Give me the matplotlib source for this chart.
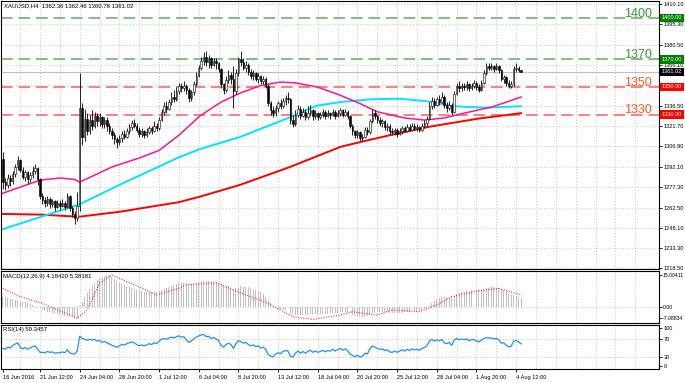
import matplotlib.pyplot as plt
from matplotlib.transforms import blended_transform_factory as blend

plt.rcParams['font.family'] = ['Liberation Sans Narrow', 'Liberation Sans', 'DejaVu Sans']

# XAUUSD H4 candles (bar 0 = 16 Jun 2016)
first_open = 1298.0
last_open = 1362.36
close = [1281, 1279, 1284, 1282, 1287, 1292, 1297, 1290, 1285, 1288,
         1283, 1286, 1289, 1291, 1283, 1271, 1268, 1266, 1269, 1265,
         1267, 1263, 1266, 1264, 1266, 1263, 1271, 1262, 1258, 1255,
         1264, 1335, 1314, 1327, 1318, 1326, 1322, 1329, 1325, 1328,
         1323, 1326, 1322, 1318, 1315, 1312, 1310, 1313, 1316, 1314,
         1318, 1321, 1324, 1322, 1319, 1316, 1318, 1315, 1317, 1320,
         1318, 1322, 1320, 1326, 1332, 1336, 1334, 1339, 1343, 1341,
         1347, 1351, 1349, 1351, 1348, 1342, 1346, 1352, 1358, 1364,
         1369, 1372, 1368, 1371, 1366, 1369, 1367, 1363, 1352, 1348,
         1355, 1359, 1356, 1347, 1360, 1370, 1368, 1364, 1366, 1361,
         1358, 1360, 1356, 1358, 1354, 1356, 1351, 1338, 1333, 1331,
         1335, 1338, 1336, 1340, 1342, 1341, 1326, 1323, 1330, 1334,
         1329, 1332, 1328, 1331, 1333, 1329, 1331, 1328, 1330, 1332,
         1329, 1331, 1330, 1332, 1329, 1331, 1333, 1330, 1332, 1329,
         1322, 1318, 1315, 1317, 1313, 1314, 1319, 1317, 1325, 1331,
         1329, 1326, 1324, 1325, 1321, 1322, 1318, 1317, 1319, 1316,
         1318, 1320, 1318, 1321, 1319, 1322, 1320, 1321, 1319, 1322,
         1324, 1327, 1336, 1340, 1337, 1341, 1339, 1343, 1337, 1335,
         1337, 1332, 1345, 1351, 1349, 1351, 1350, 1352, 1349, 1351,
         1353, 1350, 1348, 1353, 1360, 1365, 1364, 1365, 1363, 1365,
         1362, 1356, 1357, 1353, 1351, 1352, 1363, 1364, 1362, 1361.02]
high = [1303, 1284, 1287, 1286, 1289, 1294, 1300, 1298, 1292, 1290,
        1289, 1288, 1293, 1294, 1292, 1284, 1273, 1270, 1271, 1270,
        1269, 1268, 1268, 1268, 1269, 1267, 1273, 1272, 1264, 1260,
        1274, 1360, 1338, 1334, 1331, 1330, 1333, 1332, 1331, 1331,
        1329, 1328, 1328, 1324, 1320, 1317, 1314, 1315, 1318, 1319,
        1320, 1323, 1326, 1327, 1324, 1321, 1320, 1319, 1320, 1322,
        1322, 1325, 1324, 1328, 1334, 1339, 1340, 1341, 1346, 1348,
        1350, 1353, 1353, 1354, 1352, 1349, 1348, 1354, 1361, 1366,
        1372, 1375, 1376, 1373, 1372, 1371, 1371, 1368, 1364, 1353,
        1358, 1362, 1361, 1365, 1363, 1372, 1376, 1371, 1369, 1367,
        1363, 1362, 1361, 1360, 1359, 1358, 1357, 1352, 1340, 1336,
        1337, 1340, 1341, 1342, 1344, 1346, 1342, 1330, 1333, 1337,
        1336, 1335, 1334, 1336, 1337, 1334, 1333, 1332, 1332, 1334,
        1333, 1333, 1332, 1334, 1333, 1333, 1335, 1334, 1334, 1333,
        1330, 1323, 1319, 1319, 1318, 1316, 1321, 1321, 1327, 1334,
        1333, 1330, 1328, 1327, 1326, 1324, 1323, 1320, 1320, 1320,
        1320, 1322, 1322, 1323, 1323, 1324, 1324, 1323, 1322, 1324,
        1326, 1329, 1339, 1343, 1342, 1343, 1344, 1346, 1344, 1339,
        1340, 1338, 1347, 1353, 1354, 1353, 1353, 1354, 1353, 1353,
        1355, 1354, 1352, 1355, 1362, 1367, 1367, 1367, 1366, 1367,
        1366, 1363, 1359, 1358, 1355, 1354, 1365, 1367, 1365, 1362.46]
low = [1276, 1275, 1277, 1278, 1280, 1285, 1290, 1288, 1283, 1282,
       1280, 1281, 1284, 1287, 1279, 1269, 1265, 1263, 1264, 1262,
       1263, 1260, 1262, 1261, 1263, 1261, 1262, 1260, 1256, 1251,
       1253, 1260, 1308, 1311, 1315, 1316, 1319, 1320, 1322, 1322,
       1320, 1320, 1318, 1316, 1312, 1309, 1306, 1308, 1310, 1312,
       1313, 1316, 1319, 1320, 1317, 1314, 1314, 1313, 1314, 1316,
       1316, 1317, 1318, 1319, 1325, 1330, 1331, 1333, 1337, 1339,
       1340, 1345, 1346, 1347, 1345, 1339, 1340, 1344, 1351, 1357,
       1362, 1366, 1365, 1364, 1364, 1365, 1363, 1361, 1349, 1345,
       1346, 1353, 1352, 1335, 1345, 1358, 1365, 1362, 1361, 1359,
       1356, 1355, 1354, 1353, 1352, 1352, 1349, 1336, 1330, 1328,
       1329, 1332, 1334, 1335, 1337, 1338, 1323, 1321, 1322, 1328,
       1327, 1328, 1326, 1327, 1329, 1326, 1327, 1326, 1327, 1328,
       1327, 1328, 1327, 1329, 1327, 1328, 1329, 1328, 1329, 1327,
       1320, 1315, 1313, 1313, 1311, 1311, 1313, 1315, 1316, 1324,
       1327, 1324, 1322, 1321, 1319, 1318, 1316, 1315, 1315, 1314,
       1315, 1316, 1317, 1317, 1318, 1318, 1319, 1318, 1317, 1318,
       1320, 1322, 1326, 1334, 1335, 1336, 1337, 1338, 1335, 1332,
       1333, 1330, 1331, 1344, 1346, 1347, 1348, 1348, 1347, 1348,
       1349, 1348, 1346, 1347, 1352, 1359, 1362, 1362, 1361, 1362,
       1360, 1354, 1353, 1351, 1349, 1349, 1351, 1361, 1361, 1360.78]

# moving averages (bar position, value)
ma_fast_x = [-0.7, 15, 23, 29, 31, 44, 55, 63, 71, 79.5, 88, 95.6, 104, 111.8, 117.8, 126.7,
             136, 144, 151, 162, 170, 178, 186, 197.3, 209]
ma_fast_y = [1272.5, 1282.5, 1284, 1283, 1281, 1292, 1298.5, 1304, 1315, 1329, 1339, 1345.5,
             1351, 1353.5, 1353, 1350, 1344, 1338, 1332, 1327.5, 1326, 1327.5, 1331, 1335.5,
             1342.7]
ma_mid_x = [-0.7, 19, 31, 47, 71, 79.5, 95.6, 115.8, 126.7, 136, 148, 160, 171.5, 182, 194.4, 209]
ma_mid_y = [1246.5, 1258, 1265, 1279, 1299, 1305, 1313.7, 1328, 1336.5, 1339, 1341, 1341.5,
            1339.5, 1336, 1335, 1336]
ma_slow_x = [-0.7, 15, 30, 31, 47, 71, 79.5, 95.6, 115.8, 136, 144, 156, 171.5, 191.6, 209]
ma_slow_y = [1258, 1257.5, 1256, 1256, 1259.5, 1266.5, 1270.5, 1279, 1292, 1306.5, 1310, 1315,
             1321, 1327, 1331]

# MACD(12,26,9) main per bar, signal line points
macd_main = [4.6, 4.3, 4.0, 3.6, 3.3, 3.0, 3.0, 2.7, 2.3, 2.0,
             1.6, 1.2, 0.8, 0.4, -0.1, -0.8, -1.4, -1.9, -2.2, -2.5,
             -2.8, -3.1, -3.4, -3.6, -3.8, -4.1, -4.1, -4.4, -4.8, -5.1,
             -5.2, 0.4, 2.2, 4.3, 6.4, 8.1, 9.6, 10.9, 12.0, 12.9,
             13.6, 14.1, 14.4, 14.3, 13.6, 12.7, 11.8, 11.0, 10.3, 9.7,
             9.2, 8.8, 8.5, 8.2, 7.8, 7.4, 7.1, 6.9, 6.7, 6.6,
             6.6, 6.7, 6.8, 7.1, 7.6, 8.2, 8.5, 9.0, 9.6, 9.9,
             10.3, 10.7, 10.9, 11.0, 10.7, 10.2, 10.2, 10.5, 10.9, 11.3,
             11.6, 11.8, 11.9, 11.8, 11.6, 11.4, 11.2, 10.9, 10.3, 9.7,
             9.4, 9.3, 9.1, 8.3, 8.4, 9.0, 9.3, 9.2, 9.1, 8.8,
             8.5, 8.2, 7.7, 7.2, 6.6, 5.7, 4.5, 3.0, 1.6, 0.4,
             -0.4, -0.9, -1.3, -1.5, -1.6, -1.8, -2.8, -3.5, -3.6, -3.6,
             -3.7, -3.6, -3.7, -3.6, -3.4, -3.5, -3.4, -3.5, -3.4, -3.3,
             -3.3, -3.2, -3.1, -2.9, -2.9, -2.8, -2.6, -2.6, -2.4, -2.5,
             -3.0, -3.6, -4.2, -4.4, -4.8, -4.9, -4.6, -4.4, -3.7, -2.8,
             -2.4, -2.3, -2.3, -2.2, -2.4, -2.4, -2.7, -2.9, -2.9, -3.0,
             -2.9, -2.7, -2.6, -2.4, -2.3, -2.1, -2.0, -1.9, -1.9, -1.6,
             -1.2, -0.6, 0.6, 1.9, 2.6, 3.4, 3.9, 4.6, 4.6, 4.5,
             4.6, 4.3, 5.0, 5.7, 6.1, 6.5, 6.8, 7.0, 7.2, 7.4,
             7.6, 7.6, 7.5, 7.7, 8.1, 8.5, 8.7, 8.8, 8.8, 8.7,
             8.5, 8.0, 7.4, 6.7, 5.9, 5.2, 5.3, 5.1, 4.6, 4.18]
signal_x = [0, 7, 16, 30, 34, 39, 44, 53, 62, 71, 74, 86, 93, 107, 117, 125, 136, 141, 151,
            157, 168, 175, 181, 192, 200, 209]
signal_y = [8.4, 4.6, 1.5, -5.3, -1.5, 10.7, 14.5, 10, 5.4, 8.4, 10, 11, 7.6, 1.5, -4.6, -5.8,
            -3.8, -2.3, -3.8, -1.5, -2.3, 0.8, 4.6, 7.3, 8.4, 5.38]

# RSI(14) per bar
rsi = [49, 47, 52, 50, 56, 59, 62, 52, 48, 51,
       47, 50, 53, 55, 48, 40, 40, 39, 42, 40,
       41, 38, 39, 39, 41, 39, 46, 39, 37, 36,
       43, 77, 72, 70, 68, 70, 68, 70, 66, 67,
       63, 65, 62, 59, 56, 54, 52, 55, 58, 57,
       60, 62, 64, 62, 58, 55, 57, 55, 57, 60,
       58, 62, 60, 66, 70, 72, 70, 73, 75, 73,
       76, 78, 75, 76, 68, 63, 66, 71, 75, 78,
       80, 81, 76, 77, 72, 74, 71, 67, 56, 52,
       58, 61, 58, 49, 60, 67, 65, 61, 63, 58,
       55, 57, 53, 55, 50, 52, 47, 35, 31, 30,
       36, 39, 37, 42, 44, 43, 31, 29, 38, 43,
       38, 42, 38, 42, 45, 40, 43, 40, 42, 45,
       41, 44, 43, 47, 43, 46, 49, 45, 48, 44,
       36, 33, 30, 33, 29, 31, 38, 36, 48, 55,
       52, 49, 47, 48, 44, 46, 41, 40, 43, 40,
       43, 46, 43, 47, 44, 48, 46, 47, 45, 49,
       51, 55, 66, 70, 66, 69, 66, 70, 62, 60,
       63, 56, 68, 72, 69, 71, 69, 71, 67, 69,
       69, 66, 64, 68, 72, 74, 73, 73, 71, 72,
       69, 61, 62, 56, 53, 54, 66, 67, 64, 59.35]

# axis labels
price_ticks = [1410.10, 1395.30, 1380.50, 1366.10, 1351.30, 1336.50, 1321.70, 1306.90,
               1292.10, 1277.30, 1262.50, 1248.10, 1233.30, 1218.50]
date_tick_bars = [0, 15, 31, 47, 63, 79, 95, 111, 127, 143, 159, 175, 191, 207]
date_labels = ['16 Jun 2016', '21 Jun 12:00', '24 Jun 04:00', '28 Jun 20:00', '1 Jul 12:00',
               '6 Jul 04:00', '8 Jul 20:00', '13 Jul 12:00', '18 Jul 04:00', '20 Jul 20:00',
               '25 Jul 12:00', '28 Jul 04:00', '1 Aug 20:00', '4 Aug 12:00']
levels = [1400, 1370, 1350, 1330]
level_colors = ['#80c080', '#80c080', '#ff7f7f', '#ff7f7f']
level_text_colors = ['#339933', '#339933', '#ff5a1e', '#ff5a1e']
tag_colors = ['#008000', '#008000', '#ff0000', '#ff0000']
bid = 1361.02

W, H = 685, 383
fig = plt.figure(figsize=(W / 100, H / 100), dpi=100)


def panel(top, bottom):
    return fig.add_axes([1 / W, 1 - bottom / H, 658 / W, (bottom - top) / H])


ax = panel(1, 269)
ax_macd = panel(271, 323)
ax_rsi = panel(325, 369)

grid_bars = list(range(7, 256, 8))
gkw = dict(color='#c8c8c8', lw=0.6, ls=(0, (1.5, 2)), zorder=0)
small = 4.1

for a in (ax, ax_macd, ax_rsi):
    a.set_xlim(-0.73, 264.6)
    for g in grid_bars:
        a.axvline(g, **gkw)
    for s in a.spines.values():
        s.set_color('black')
        s.set_linewidth(0.8)
    a.yaxis.tick_right()
    a.tick_params(axis='y', labelsize=small, length=2, width=0.6, pad=1.2)
    a.tick_params(axis='x', bottom=False, labelbottom=False)

# ---- price panel
ax.set_ylim(1218.07, 1412.27)
for p in price_ticks:
    ax.axhline(p, **gkw)
ax.set_yticks(price_ticks)
ax.set_yticklabels(['' if p == 1351.30 else f'{p:.2f}' for p in price_ticks])

opens = [first_open] + close[:-2] + [last_open]
for i in range(len(close)):
    o, c = opens[i], close[i]
    ax.vlines(i, low[i], high[i], color='black', lw=0.6, zorder=3)
    ax.bar(i, max(abs(c - o), 0.3), bottom=min(o, c), width=0.6,
           color='white' if c > o else 'black', edgecolor='black', lw=0.4, zorder=4)

ax.plot(ma_slow_x, ma_slow_y, color='#ff0000', lw=1.4, zorder=2)
ax.plot(ma_mid_x, ma_mid_y, color='#00e5ff', lw=1.4, zorder=2)
ax.plot(ma_fast_x, ma_fast_y, color='#ff1493', lw=1.1, zorder=2)

ax.axhline(bid, color='#c0c0c0', lw=0.8, zorder=1)
tr = blend(ax.transAxes, ax.transData)
for lv, lc, tc, bc in zip(levels, level_colors, level_text_colors, tag_colors):
    ax.axhline(lv, color=lc, lw=1.4, ls=(0, (6, 3)), zorder=1)
    ax.text(0.9895, lv + 1.0, str(lv), transform=tr, ha='right', va='baseline',
            fontsize=9, color=tc, family=['Liberation Sans', 'DejaVu Sans'])
    ax.text(1.0046, lv, f'{lv:.2f}', transform=tr, ha='left', va='center', fontsize=small,
            color='white', clip_on=False, zorder=5,
            bbox=dict(boxstyle='square,pad=0.3', fc=bc, ec='none'))
ax.text(1.0046, bid, f'{bid:.2f}', transform=tr, ha='left', va='center', fontsize=small,
        color='white', clip_on=False, zorder=5,
        bbox=dict(boxstyle='square,pad=0.3', fc='black', ec='none'))

fig.text(4 / W, 1 - 6 / H, 'XAUUSD,H4  1362.36 1362.46 1360.78 1361.02',
         fontsize=4.3, va='center', ha='left')

# ---- MACD panel
ax_macd.set_ylim(-7.44, 16.3)
ax_macd.axhline(0, **gkw)
ax_macd.bar(range(len(macd_main)), macd_main, width=0.4, color='#c0c0c0', zorder=2)
ax_macd.plot(signal_x, signal_y, color='#ff3030', lw=0.8, ls=(0, (1, 1.3)), zorder=3)
ax_macd.set_yticks([14.5, 0, -5.16])
ax_macd.set_yticklabels(['15.00411', '0.00', '-7.08834'])
ax_macd.tick_params(axis='y', labelsize=3.7, pad=0.8)
ax_macd.text(0.003, 0.9, 'MACD(12,26,9) 4.18420 5.38181', transform=ax_macd.transAxes,
             fontsize=4.3, va='center', ha='left')

# ---- RSI panel
ax_rsi.set_ylim(1.7, 102.9)
for lv in (70, 30):
    ax_rsi.axhline(lv, **gkw)
ax_rsi.plot(range(len(rsi)), rsi, color='#1e90ff', lw=0.9, zorder=2)
ax_rsi.set_yticks([96, 70, 30, 8.6])
ax_rsi.set_yticklabels(['100', '70', '30', '0'])
ax_rsi.text(0.003, 0.9, 'RSI(14) 59.3457', transform=ax_rsi.transAxes,
            fontsize=4.3, va='center', ha='left')
ax_rsi.tick_params(axis='x', bottom=True, labelbottom=True, labelsize=small,
                   length=2, width=0.6, pad=2)
ax_rsi.set_xticks(date_tick_bars)
ax_rsi.set_xticklabels(date_labels, ha='left')

fig.savefig('out.png', dpi=100)
